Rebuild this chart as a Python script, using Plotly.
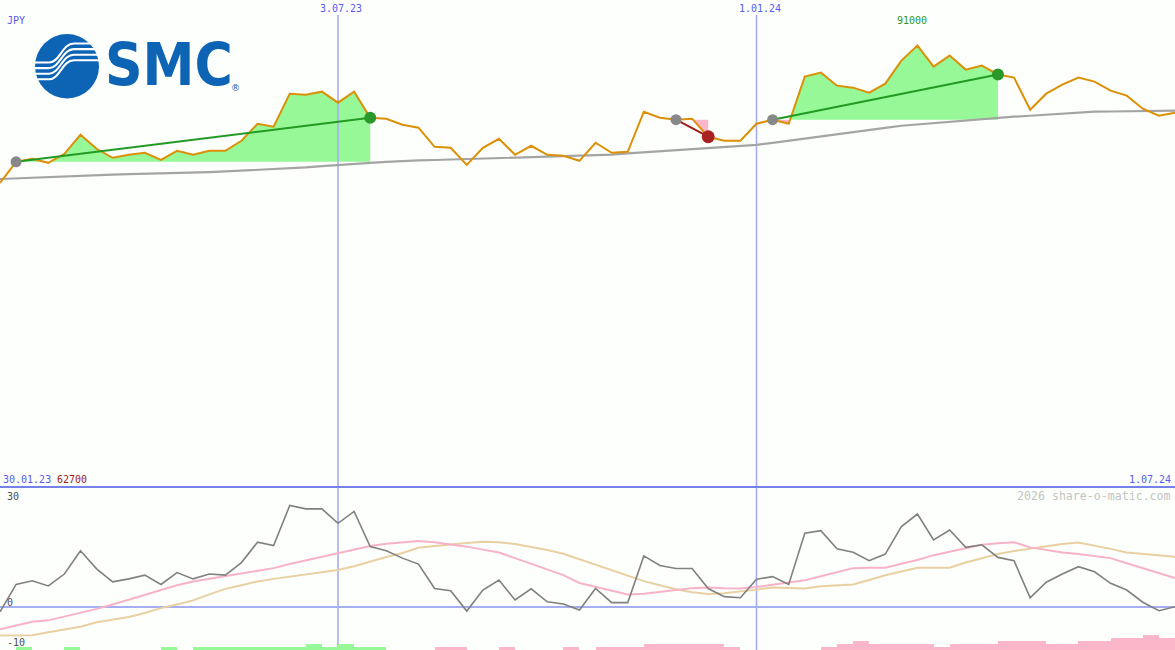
import pandas as pd
import plotly.graph_objects as go

# ---------------- data ----------------
start = pd.Timestamp("2023-02-06")
n_weeks = 74
dates = [start + pd.Timedelta(weeks=i) for i in range(n_weeks)]

price = [62700, 67040, 67660, 66830, 68690, 72620, 69730, 67870, 68490, 68900,
         67450, 69310, 68490, 69310, 69310, 71380, 74890, 74270, 81090, 80880,
         81500, 79230, 81500, 76130, 75930, 74690, 74070, 70140, 69930, 66420,
         69930, 71790, 68490, 70350, 68490, 68280, 67250, 70970, 68900, 69110,
         77370, 76130, 75720, 75930, 72210, 71380, 71380, 74890, 75720, 74890,
         84600, 85430, 82740, 82330, 81300, 83160, 87910, 91000, 86670, 88940,
         86050, 86870, 85020, 84400, 77780, 81090, 82950, 84400, 83570, 81710,
         80680, 77990, 76540, 77170]

ma_long = [63500, 63650, 63800, 63900, 64050, 64200, 64350, 64400, 64500, 64550,
           64650, 64700, 64770, 64900, 65050, 65200, 65350, 65500, 65600, 65900,
           66150, 66420, 66620, 66830, 67040, 67250, 67330, 67410, 67500, 67580,
           67660, 67750, 67840, 67930, 68020, 68110, 68200, 68280, 68520, 68760,
           69000, 69250, 69490, 69730, 69940, 70140, 70350, 70550, 70960, 71380,
           71790, 72240, 72690, 73140, 73590, 74040, 74480, 74760, 75030, 75310,
           75580, 75860, 76130, 76340, 76540, 76750, 76960, 77160, 77370, 77410,
           77450, 77500, 77540, 77580]

osc = [-1.3, 6.1, 7.1, 5.7, 8.9, 15.2, 10.3, 6.8, 7.6, 8.6,
       6.1, 9.3, 7.6, 8.9, 8.6, 12.0, 17.5, 16.6, 27.4, 26.5,
       26.5, 22.6, 25.8, 16.3, 15.2, 13.2, 11.6, 5.0, 4.4, -1.1,
       4.6, 7.3, 1.9, 4.9, 1.4, 0.8, -0.8, 5.0, 1.2, 1.2,
       13.8, 11.2, 10.4, 10.4, 5.0, 2.8, 2.5, 7.5, 8.2, 6.1,
       19.9, 20.6, 15.7, 14.8, 12.5, 14.3, 21.7, 25.1, 18.1, 20.8,
       16.1, 16.8, 13.4, 12.5, 2.5, 6.7, 8.9, 10.9, 9.5, 6.4,
       4.6, 1.3, -1.0, 0.1]

osc_fast = [-6.0, -5.0, -4.0, -3.6, -2.6, -1.6, -0.5, 0.7, 2.0, 3.3,
            4.7, 5.9, 6.9, 7.6, 8.3, 9.0, 9.7, 10.5, 11.6, 12.6,
            13.6, 14.6, 15.6, 16.5, 17.1, 17.5, 17.8, 17.5, 17.0, 16.3,
            15.5, 14.7, 13.2, 11.6, 10.2, 8.6, 6.5, 5.5, 4.6, 3.4,
            3.6, 4.2, 4.6, 5.1, 5.3, 5.1, 5.0, 5.4, 6.0, 6.6,
            7.2, 8.3, 9.3, 10.5, 10.6, 10.6, 11.7, 12.7, 14.0, 15.0,
            15.9, 16.8, 17.2, 17.5, 16.1, 15.3, 14.7, 14.3, 13.8, 13.2,
            11.8, 10.4, 9.2, 7.8]

osc_slow = [-7.7, -7.7, -7.6, -6.8, -6.1, -5.3, -4.1, -3.4, -2.7, -1.6,
            -0.3, 0.7, 1.8, 3.4, 4.9, 5.9, 6.9, 7.6, 8.2, 8.7,
            9.3, 10.0, 11.0, 12.3, 13.5, 14.6, 16.0, 16.5, 17.0, 17.3,
            17.6, 17.5, 17.0, 16.3, 15.4, 14.4, 12.9, 11.6, 10.0, 8.5,
            7.0, 5.9, 4.8, 4.0, 3.5, 3.7, 4.1, 4.7, 5.3, 5.1,
            5.0, 5.6, 5.9, 6.1, 7.3, 8.6, 9.6, 10.6, 10.6, 10.6,
            12.0, 13.2, 14.3, 15.1, 15.8, 16.4, 17.0, 17.4, 16.6, 15.7,
            14.7, 14.3, 14.0, 13.6]

bar_vals = [0, 1, 0, 0, 1, 0, 0, 0, 0, 0,
            1, 0, 1, 1, 1, 1, 1, 1, 1, 2,
            1, 2, 1, 1, 0, 0, 0, -1, -1, 0,
            0, -1, 0, 0, 0, -1, 0, -1, -1, -1,
            -2, -2, -2, -2, -2, -1, 0, 0, 0, 0,
            0, -1, -2, -3, -2, -2, -2, -2, -1, -2,
            -2, -2, -3, -3, -3, -2, -2, -3, -3, -4,
            -4, -5, -4, -4]

# trades: (entry week index, exit week index)
trades = [(1, 23), (42, 44), (48, 62)]

marker_dates = ["2023-07-03", "2024-01-01"]
marker_labels = ["3.07.23", "1.01.24"]
left_label = "30.01.23"
right_label = "1.07.24"
currency = "JPY"
osc_ticks = [30, 0, -10]

# ---------------- styling ----------------
W, H = 1175, 650
BG = "#fcfffc"
MONO = "DejaVu Sans Mono, Liberation Mono, monospace"
BLUE_TXT = "#5a5af2"
GREEN_FILL = "#96f896"
PINK_FILL = "#fbb6ca"
SPLIT = 163 / H  # lower panel height fraction


def idx_to_date(x):
    return start + pd.Timedelta(days=7 * x)


def px(x):
    return x / W


def py(y):
    return 1 - y / H


fig = go.Figure()


def trade_poly(ks, ke, p0, above):
    xs, ys = [], []
    for i in range(ks, ke + 1):
        v = price[i]
        if i > ks:
            pv = price[i - 1]
            if (pv - p0) * (v - p0) < 0:
                t = (p0 - pv) / (v - pv)
                xs.append(i - 1 + t)
                ys.append(p0)
        xs.append(i)
        ys.append(max(v, p0) if above else min(v, p0))
    xs += [ke, ks, ks]
    ys += [p0, p0, ys[0]]
    return [idx_to_date(x) for x in xs], ys


# trade fills
for ks, ke in trades:
    p0 = price[ks]
    for above, col in [(True, GREEN_FILL), (False, PINK_FILL)]:
        xs, ys = trade_poly(ks, ke, p0, above)
        fig.add_trace(go.Scatter(x=xs, y=ys, mode="lines", fill="toself",
                                 fillcolor=col, line=dict(width=0),
                                 hoverinfo="skip", showlegend=False,
                                 xaxis="x", yaxis="y"))

# vertical marker lines (top panel part, above fills)
ytop = 100400 * (1 - 15 / 487)
for d in marker_dates:
    fig.add_trace(go.Scatter(x=[d, d], y=[0, ytop], mode="lines",
                             line=dict(color="#a6aef2", width=1.6),
                             hoverinfo="skip", showlegend=False,
                             xaxis="x", yaxis="y"))

# long moving average
fig.add_trace(go.Scatter(x=dates, y=ma_long, mode="lines",
                         line=dict(color="#a4a4a4", width=2.2),
                         showlegend=False, xaxis="x", yaxis="y"))
# price
fig.add_trace(go.Scatter(x=dates, y=price, mode="lines",
                         line=dict(color="#dc9008", width=2),
                         showlegend=False, xaxis="x", yaxis="y"))

# trade lines and markers
for ks, ke in trades:
    win = price[ke] >= price[ks]
    lc = "#239a23" if win else "#a01c1c"
    fig.add_trace(go.Scatter(x=[dates[ks], dates[ke]], y=[price[ks], price[ke]],
                             mode="lines", line=dict(color=lc, width=2),
                             showlegend=False, xaxis="x", yaxis="y"))
    fig.add_trace(go.Scatter(x=[dates[ks]], y=[price[ks]], mode="markers",
                             marker=dict(color="#888888", size=11, line=dict(width=0)),
                             showlegend=False, xaxis="x", yaxis="y"))
    fig.add_trace(go.Scatter(x=[dates[ke]], y=[price[ke]], mode="markers",
                             marker=dict(color="#2a982a" if win else "#a82222",
                                         size=12 if win else 13, line=dict(width=0)),
                             showlegend=False, xaxis="x", yaxis="y"))

# lower panel
fig.add_trace(go.Scatter(x=dates, y=osc_slow, mode="lines",
                         line=dict(color="#e8d0a2", width=2),
                         showlegend=False, xaxis="x", yaxis="y2"))
fig.add_trace(go.Scatter(x=dates, y=osc_fast, mode="lines",
                         line=dict(color="#f8b2c8", width=2),
                         showlegend=False, xaxis="x", yaxis="y2"))
fig.add_trace(go.Scatter(x=dates, y=osc, mode="lines",
                         line=dict(color="#808080", width=1.6),
                         showlegend=False, xaxis="x", yaxis="y2"))

fig.add_trace(go.Bar(x=dates, y=[abs(v) for v in bar_vals],
                     marker=dict(color=[GREEN_FILL if v > 0 else PINK_FILL for v in bar_vals],
                                 line=dict(width=0)),
                     width=7 * 24 * 3600 * 1000, offset=0,
                     showlegend=False, xaxis="x", yaxis="y3"))

# ---------------- shapes ----------------
shapes = []
for d in marker_dates:
    shapes.append(dict(type="line", xref="x", yref="paper", x0=d, x1=d,
                       y0=0, y1=SPLIT, line=dict(color="#a6aef2", width=1.6),
                       layer="below"))
shapes.append(dict(type="line", xref="paper", yref="paper", x0=0, x1=1,
                   y0=SPLIT, y1=SPLIT, line=dict(color="#7482ea", width=2),
                   layer="above"))
shapes.append(dict(type="line", xref="paper", yref="y2", x0=0, x1=1,
                   y0=0, y1=0, line=dict(color="#a6aef2", width=2),
                   layer="below"))

# SMC logo: circle with white wave stripes
LOGO_BLUE = "#0d63b4"
shapes.append(dict(type="circle", xref="paper", yref="paper",
                   x0=px(35), x1=px(99), y0=py(98.5), y1=py(34),
                   fillcolor=LOGO_BLUE, line=dict(width=0), layer="above"))
for i in range(4):
    yl = 62.5 + 5.6 * i
    yr = 43.5 + 5.6 * i
    path = (f"M {px(30):.5f},{py(yl):.5f} L {px(49):.5f},{py(yl):.5f} "
            f"C {px(60):.5f},{py(yl):.5f} {px(62):.5f},{py(yr):.5f} {px(74):.5f},{py(yr):.5f} "
            f"L {px(104):.5f},{py(yr):.5f}")
    shapes.append(dict(type="path", xref="paper", yref="paper", path=path,
                       line=dict(color="white", width=2.1), layer="above"))

# ---------------- annotations ----------------
ann = []


def txt(text, x, y, color, size=10, xanchor="left", xref="paper", xshift=0, family=MONO):
    ann.append(dict(text=text, x=x if xref != "paper" else px(x), y=py(y),
                    xref=xref, yref="paper", xanchor=xanchor, yanchor="middle",
                    showarrow=False, xshift=xshift,
                    font=dict(family=family, size=size, color=color)))


txt(currency, 5, 20, BLUE_TXT)
for d, lab in zip(marker_dates, marker_labels):
    txt(lab, d, 9, BLUE_TXT, xanchor="center", xref="x", xshift=3)
pk = price.index(max(price))
txt(f"{max(price)}", dates[pk], 21, "#2a962a", xanchor="center", xref="x", xshift=-5)
txt(left_label, 1, 479, BLUE_TXT)
txt(f"{min(price)}", 55, 479, "#a01818")
txt(right_label, 1173, 479, BLUE_TXT, xanchor="right")
txt("2026 share-o-matic.com", 1173, 496, "#c4c4c4", size=11.6, xanchor="right")
for v, yy in zip(osc_ticks, [496.5, 602.5, 642]):
    txt(str(v), 5, yy, "#505050")

# logo text
ann.append(dict(text="<b>SMC</b>", x=px(168.5), y=py(64.5), xref="paper", yref="paper",
                xanchor="center", yanchor="middle", showarrow=False,
                font=dict(family="DejaVu Sans Condensed, DejaVu Sans, sans-serif",
                          size=58, weight="bold", color=LOGO_BLUE)))
ann.append(dict(text="®", x=px(235), y=py(88), xref="paper", yref="paper",
                xanchor="center", yanchor="middle", showarrow=False,
                font=dict(family="DejaVu Sans", size=9, color=LOGO_BLUE)))

fig.update_layout(
    width=W, height=H,
    margin=dict(l=0, r=0, t=0, b=0),
    paper_bgcolor=BG, plot_bgcolor=BG,
    showlegend=False, bargap=0,
    xaxis=dict(type="date", range=[dates[0], dates[-1]], visible=False,
               showgrid=False, zeroline=False),
    yaxis=dict(domain=[SPLIT, 1], range=[0, 100400], visible=False,
               showgrid=False, zeroline=False),
    yaxis2=dict(domain=[0, SPLIT], range=[-11.6, 32.4], visible=False,
                showgrid=False, zeroline=False),
    yaxis3=dict(overlaying="y2", range=[0, 163 / 3], visible=False,
                showgrid=False, zeroline=False),
    shapes=shapes,
    annotations=ann,
)

fig.write_html("out.html", config={"displayModeBar": False},
               post_script="document.body.style.margin='0';document.body.style.overflow='hidden';")
